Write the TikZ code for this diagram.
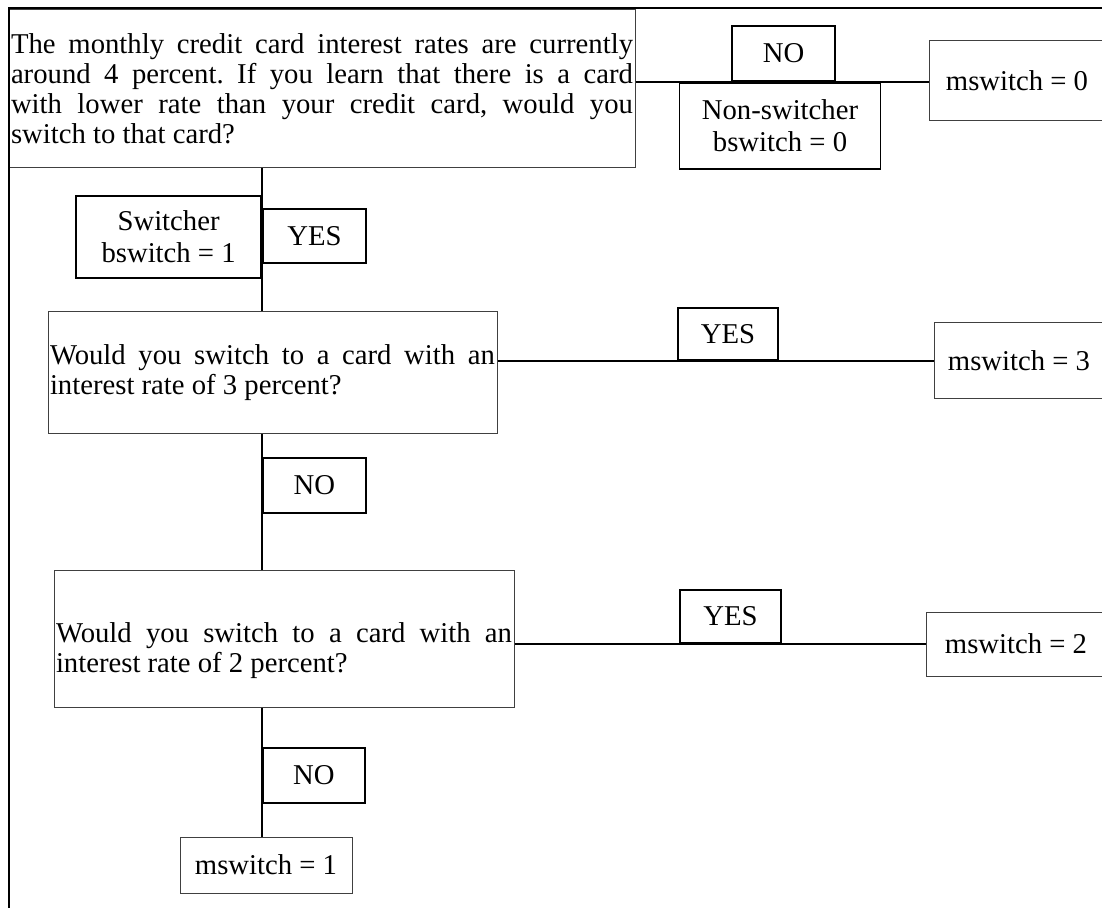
\documentclass[tikz,border=0pt]{standalone}
\usepackage{fontspec}
\setmainfont{Liberation Serif}
\frenchspacing

\begin{document}
\begin{tikzpicture}[x=0.5pt, y=-0.5pt]
		\tikzstyle{Question}	= [draw=black!75, line width=0.5pt, inner xsep=1pt, inner ysep=0pt, align=justify, font=\fontsize{14.35pt}{15pt}\selectfont]
		\tikzstyle{Answer}		= [draw, line width=0.9pt, inner sep=0pt, minimum height=27.5pt, font=\fontsize{14.35pt}{16pt}\selectfont]
		\tikzstyle{Group}		= [draw, line width=0.9pt, inner sep=0pt, align=center, font=\fontsize{14.35pt}{16pt}\selectfont]
		\tikzstyle{Result}		= [draw=black!75, line width=0.5pt, inner sep=0pt, font=\fontsize{14.35pt}{16pt}\selectfont]
		\tikzstyle{Link}		= [line width=0.9pt]

		\useasboundingbox (0,0) rectangle (1102,908);

		% questions
		\node (q1) at (322, 89) [Question, text width=311pt, minimum height=79pt] {The monthly credit card interest rates are currently\linebreak around 4 percent. If you learn that there is a card\linebreak with lower rate than your credit card, would you\linebreak switch to that card?};
		\node (q2) at (272.5, 373) [Question, text width=222.5pt, minimum height=61pt] {Would you switch to a card with an\linebreak interest rate of 3 percent?};
		\node (q3) at (284, 638.5) [Question, text width=228pt, minimum height=68.5pt, text height=22pt] {Would you switch to a card with an\linebreak interest rate of 2 percent?};

		% outcomes
		\node (msw0) at (1017, 81) [Result, minimum width=88pt, minimum height=40pt] {mswitch = 0};
		\node (msw3) at (1019, 361) [Result, minimum width=85pt, minimum height=38pt] {mswitch = 3};
		\node (msw2) at (1016, 644) [Result, minimum width=90pt, minimum height=32pt] {mswitch = 2};
		\node (msw1) at (266, 865) [Result, minimum width=86pt, minimum height=28pt] {mswitch = 1};

		\coordinate (trunk) at (262, 0);

		% groups and answers
		\node (no0) at (783.5, 82) [Answer, anchor=south, minimum width=51.5pt] {NO};
		\node (nsw) at (780, 82) [Group, anchor=north, minimum width=100.5pt, minimum height=43pt] {Non-switcher\\bswitch = 0};
		\node (sw) at (262, 237) [Group, anchor=east, minimum width=92.5pt, minimum height=41pt] {Switcher\\bswitch = 1};
		\node (yes0) at (262, 236) [Answer, anchor=west, minimum width=51.5pt, minimum height=27pt] {YES};
		\node (yes1) at (728, 361) [Answer, anchor=south, minimum width=50pt, minimum height=26pt] {YES};
		\node (no1) at (262, 485.5) [Answer, anchor=west, minimum width=51.5pt] {NO};
		\node (yes2) at (730.5, 644) [Answer, anchor=south, minimum width=50.5pt, minimum height=26.5pt] {YES};
		\node (no2) at (262, 775.5) [Answer, anchor=west, minimum width=51pt] {NO};

		% frame
		\draw [line width=1.2pt] (1102, 8) -- (9, 8) -- (9, 908);

		% connectors
		\draw [Link] (q1.east |- no0.south) -- (msw0.west |- no0.south);
		\draw [Link] (q2.east |- msw3.west) -- (msw3.west);
		\draw [Link] (q3.east |- msw2.west) -- (msw2.west);
		\draw [Link] (q1.south -| trunk) -- (q2.north -| trunk);
		\draw [Link] (q2.south -| trunk) -- (q3.north -| trunk);
		\draw [Link] (q3.south -| trunk) -- (msw1.north -| trunk);
	\end{tikzpicture}
\end{document}
